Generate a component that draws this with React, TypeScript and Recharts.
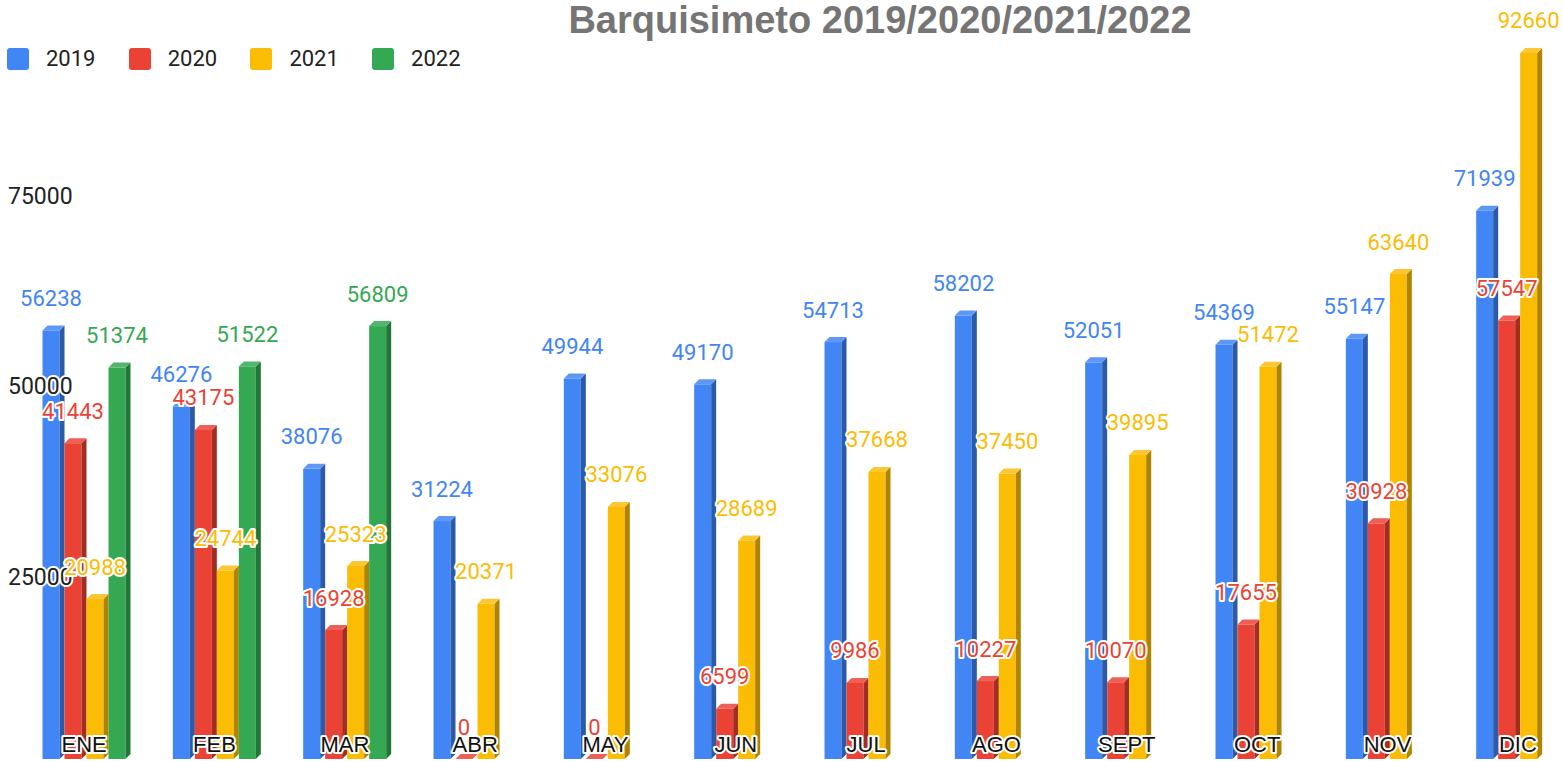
import React from 'react';
import { BarChart, Bar, XAxis, YAxis, Legend, LabelList } from 'recharts';

const MONTHS = ['ENE', 'FEB', 'MAR', 'ABR', 'MAY', 'JUN', 'JUL', 'AGO', 'SEPT', 'OCT', 'NOV', 'DIC'];
const V2019 = [56238, 46276, 38076, 31224, 49944, 49170, 54713, 58202, 52051, 54369, 55147, 71939];
const V2020 = [41443, 43175, 16928, 0, 0, 6599, 9986, 10227, 10070, 17655, 30928, 57547];
const V2021 = [20988, 24744, 25323, 20371, 33076, 28689, 37668, 37450, 39895, 51472, 63640, 92660];
const V2022 = [51374, 51522, 56809, null, null, null, null, null, null, null, null, null];
const Y_TICKS = [25000, 50000, 75000];

const SERIES = [
  { key: 'y2019', name: '2019', front: '#4285f4', side: '#2b5aa8', top: '#5e97f6' },
  { key: 'y2020', name: '2020', front: '#ea4335', side: '#a32c23', top: '#ee6055' },
  { key: 'y2021', name: '2021', front: '#fbbc04', side: '#b08403', top: '#fcc733' },
  { key: 'y2022', name: '2022', front: '#34a853', side: '#23763a', top: '#52b56c' },
];

const data = MONTHS.map((month, i) => ({
  month,
  y2019: V2019[i],
  y2020: V2020[i],
  y2021: V2021[i],
  y2022: V2022[i],
}));

const DEPTH = 5;
const halo = { stroke: '#fff', strokeWidth: 4, paintOrder: 'stroke', strokeLinejoin: 'round' } as const;

// fake 3d column: front face, darker right side, lighter cap
const Column3D = (s: { front: string; side: string; top: string }) => (props: any) => {
  const { x, y, width, height } = props;
  if (x == null || y == null || props.value == null) return null;
  const w = width - DEPTH;
  const h = Math.max(height, 0);
  return (
    <g>
      <rect x={x} y={y} width={w} height={h} fill={s.front} />
      <polygon
        points={`${x + w},${y} ${x + width},${y - DEPTH} ${x + width},${y + h - DEPTH} ${x + w},${y + h}`}
        fill={s.side}
      />
      <polygon
        points={`${x},${y} ${x + DEPTH},${y - DEPTH} ${x + width},${y - DEPTH} ${x + w},${y}`}
        fill={s.top}
      />
    </g>
  );
};

const valueLabel = (color: string) => (props: any) => {
  const { x, y, width, value } = props;
  if (value == null) return null;
  return (
    <text
      x={x + (width - DEPTH) / 2}
      y={y - 32}
      textAnchor="middle"
      dominantBaseline="central"
      fill={color}
      fontSize={22}
      fontFamily="Roboto"
      {...halo}
    >
      {value}
    </text>
  );
};

const MonthTick = (props: any) => {
  const { x, y, payload } = props;
  return (
    <text
      x={x - 2}
      y={y - 23}
      textAnchor="middle"
      dominantBaseline="central"
      fill="#111"
      fontSize={22}
      fontFamily="Liberation Sans"
      {...halo}
    >
      {payload.value}
    </text>
  );
};

const ValueTick = (props: any) => {
  const { y, payload } = props;
  return (
    <text
      x={8}
      y={y + 9}
      textAnchor="start"
      dominantBaseline="central"
      fill="#222"
      fontSize={23}
      fontFamily="Roboto"
      {...halo}
    >
      {payload.value}
    </text>
  );
};

const LegendContent = (props: any) => (
  <div style={{ display: 'flex', fontFamily: 'Roboto', fontSize: 22, color: '#222' }}>
    {(props.payload || []).map((p: any) => (
      <div key={p.value} style={{ display: 'flex', alignItems: 'center', width: 121.7 }}>
        <span style={{ width: 22, height: 22, borderRadius: 3, background: p.color, marginRight: 17 }} />
        <span>{p.value}</span>
      </div>
    ))}
  </div>
);

export default function App() {
  return (
    <div
      style={{
        position: 'fixed',
        left: 0,
        top: 0,
        width: 1563,
        height: 761,
        overflow: 'hidden',
        background: '#fff',
      }}
    >
      <BarChart
        width={1600}
        height={761}
        data={data}
        margin={{ top: 0, right: 15, bottom: 0, left: 1 }}
        barCategoryGap="16.5%"
        barGap={0}
      >
        <XAxis
          dataKey="month"
          height={2}
          axisLine={false}
          tickLine={false}
          tick={<MonthTick />}
          interval={0}
          zIndex={2000}
        />
        <YAxis
          width={20}
          domain={[0, 99600]}
          ticks={Y_TICKS}
          interval={0}
          axisLine={false}
          tickLine={false}
          tick={<ValueTick />}
          zIndex={2000}
        />
        <Legend
          layout="horizontal"
          verticalAlign="middle"
          align="center"
          content={<LegendContent />}
          wrapperStyle={{ top: 46, left: 7, width: 600 }}
        />
        {SERIES.map((s) => (
          <Bar
            key={s.key}
            dataKey={s.key}
            name={s.name}
            fill={s.front}
            shape={Column3D(s)}
            isAnimationActive={false}
          >
            <LabelList dataKey={s.key} content={valueLabel(s.front)} />
          </Bar>
        ))}
      </BarChart>
      <div
        style={{
          position: 'absolute',
          left: 0,
          top: 1,
          width: 1760,
          textAlign: 'center',
          fontFamily: 'Liberation Sans',
          fontWeight: 'bold',
          fontSize: 38,
          lineHeight: '38px',
          color: '#757575',
          pointerEvents: 'none',
        }}
      >
        Barquisimeto 2019/2020/2021/2022
      </div>
    </div>
  );
}
